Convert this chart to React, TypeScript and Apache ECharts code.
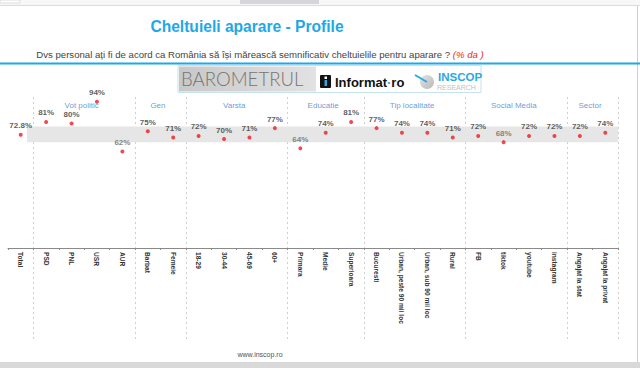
import React, { useEffect, useRef } from "react";
import * as echarts from "echarts";

const categories = [
  "Total", "PSD", "PNL", "USR", "AUR", "Barbat", "Femeie", "18-29", "30-44", "45-69", "60+",
  "Primara", "Medie", "Superioara", "Bucuresti", "Urban, peste 90 mii loc", "Urban, sub 90 mii loc",
  "Rural", "FB", "tiktok", "youtube", "instagram", "Angajat la stat", "Angajat la privat",
];
const values = [72.8, 81, 80, 94, 62, 75, 71, 72, 70, 71, 77, 64, 74, 81, 77, 74, 74, 71, 72, 68, 72, 72, 72, 74];
const groupNames = ["Vot politic", "Gen", "Varsta", "Educatie", "Tip localitate", "Social Media", "Sector"];
const groupStart = [1, 5, 7, 11, 14, 18, 22];
const groupEnd = [4, 6, 10, 13, 17, 21, 23];
const bandRange = [68, 78];

const FONT = "Liberation Sans, Arial, sans-serif";
const BLUE = "#1ea8e6";
const RED = "#ee1c25";

export default function App() {
  const ref = useRef<HTMLDivElement>(null);
  useEffect(() => {
    if (!ref.current) return;
    const chart = echarts.init(ref.current, undefined, { renderer: "svg" });
    const groupData = groupNames.map((n, i) => ({
      name: n,
      value: [(groupStart[i] + groupEnd[i]) / 2 - 0.1, 91.5],
    }));
    const option: any = {
      animation: false,
      backgroundColor: "#ffffff",
      grid: [
        { left: 8, right: 22, top: 97, bottom: 120, outerBoundsMode: "none", containLabel: false },
        { left: 8, right: 22, top: 97, bottom: 27, outerBoundsMode: "none", containLabel: false },
      ],
      xAxis: [
        {
          type: "category",
          gridIndex: 0,
          data: categories,
          boundaryGap: true,
          axisLine: { onZero: false, lineStyle: { color: "#8a8a8a", width: 1 } },
          axisTick: { show: true, interval: 0, length: 2, lineStyle: { color: "#8a8a8a" } },
          axisLabel: {
            interval: 0,
            rotate: -90,
            margin: 4,
            fontSize: 6.6,
            fontWeight: "bold",
            color: "#333",
            fontFamily: FONT,
          },
          splitLine: { show: false },
        },
        { type: "value", gridIndex: 0, show: false, min: -0.5, max: 23.5 },
        {
          type: "category",
          gridIndex: 1,
          data: categories,
          boundaryGap: true,
          axisLine: { show: false },
          axisTick: { show: false },
          axisLabel: { show: false },
          splitLine: {
            show: true,
            interval: (i: number) => i > 0 && groupStart.includes(i),
            lineStyle: { color: "#cfcfcf", type: [2, 3], width: 1 },
          },
        },
      ],
      yAxis: [
        { type: "value", gridIndex: 0, min: 0, max: 97, show: false },
        { type: "value", gridIndex: 1, min: 0, max: 1, show: false },
      ],
      series: [
        {
          type: "scatter",
          xAxisIndex: 2,
          yAxisIndex: 1,
          data: [],
          silent: true,
        },
        {
          type: "scatter",
          xAxisIndex: 1,
          yAxisIndex: 0,
          clip: false,
          symbolSize: 0,
          data: groupData,
          z: 1,
          label: {
            show: true,
            position: "inside",
            formatter: "{b}",
            color: "#3f7fd0",
            fontSize: 8,
            fontFamily: FONT,
          },
          markArea: {
            silent: true,
            itemStyle: { color: "#e6e6e6" },
            data: [[{ xAxis: 0.25, yAxis: bandRange[0] }, { xAxis: 23.8, yAxis: bandRange[1] }]],
          },
        },
        {
          type: "scatter",
          xAxisIndex: 0,
          yAxisIndex: 0,
          z: 5,
          clip: false,
          symbolSize: 4,
          itemStyle: { color: RED },
          data: values.map((v) => ({
            value: v,
            label: { color: v < 70 ? "#666" : "#333" },
          })),
          label: {
            show: true,
            position: "top",
            distance: 3,
            formatter: (p: any) => p.value + "%",
            fontSize: 8,
            fontWeight: "bold",
            fontFamily: FONT,
          },
        },
      ],
      graphic: [
        { type: "rect", shape: { x: 0, y: 0, width: 640, height: 5 }, style: { fill: "#f7f7f7" }, z: 0 },
        { type: "rect", shape: { x: 0, y: 0, width: 20, height: 3 }, style: { fill: "#fff", stroke: "#ddd" } },
        { type: "rect", shape: { x: 240, y: 0, width: 79, height: 4 }, style: { fill: "#d6d6da" } },
        { type: "line", shape: { x1: 0, y1: 5.5, x2: 640, y2: 5.5 }, style: { stroke: "#dcdcdc", lineWidth: 1 } },
        { type: "line", shape: { x1: 637.5, y1: 6, x2: 637.5, y2: 362 }, style: { stroke: "#cfcfcf", lineWidth: 1 } },
        { type: "rect", shape: { x: 0, y: 362, width: 640, height: 6 }, style: { fill: "#d9d9d9" } },
        {
          type: "text",
          x: 247,
          y: 26,
          style: {
            text: "Cheltuieli aparare - Profile",
            fill: BLUE,
            fontSize: 15.6,
            fontWeight: "bold",
            fontFamily: FONT,
            textAlign: "center",
            textVerticalAlign: "middle",
          },
        },
        {
          type: "text",
          x: 260,
          y: 54,
          style: {
            text: "{a|Dvs personal ați fi de acord ca România să își mărească semnificativ cheltuielile pentru aparare ? }{b|(% da )}",
            rich: {
              a: { fill: "#444", fontSize: 9.6, fontFamily: FONT },
              b: { fill: RED, fontSize: 9.6, fontStyle: "italic", fontFamily: FONT },
            },
            textAlign: "center",
            textVerticalAlign: "middle",
          },
        },
        { type: "line", shape: { x1: 0, y1: 63.5, x2: 640, y2: 63.5 }, style: { stroke: BLUE, lineWidth: 2 } },
        // banner
        { type: "rect", shape: { x: 178, y: 65.5, width: 303, height: 27 }, style: { fill: "#fff", stroke: "#c5e2ee", lineWidth: 1 } },
        {
          type: "rect",
          shape: { x: 179, y: 66.5, width: 137, height: 25 },
          style: {
            fill: new echarts.graphic.LinearGradient(0, 0, 1, 0, [
              { offset: 0, color: "#c8c8c8" },
              { offset: 1, color: "#e2e2e2" },
            ]),
          },
        },
        {
          type: "text",
          x: 181,
          y: 79,
          style: {
            text: "BAROMETRUL",
            fill: "#747474",
            fontSize: 18.6,
            fontWeight: 300,
            fontFamily: "Lato, Liberation Sans, sans-serif",
            textVerticalAlign: "middle",
          },
        },
        { type: "rect", shape: { x: 320, y: 75, width: 11, height: 13, r: 1 }, style: { fill: "#111" } },
        { type: "rect", shape: { x: 324.5, y: 80, width: 2.5, height: 6 }, style: { fill: "#29a9e0" } },
        { type: "rect", shape: { x: 324.5, y: 76.5, width: 2.5, height: 2.5 }, style: { fill: "#fff" } },
        {
          type: "text",
          x: 335,
          y: 82,
          style: {
            text: "{a|Informat}{d|·}{a|ro}",
            rich: {
              a: { fill: "#111", fontSize: 13, fontWeight: "bold", fontFamily: FONT },
              d: { fill: "#29a9e0", fontSize: 13, fontWeight: "bold", fontFamily: FONT },
            },
            textVerticalAlign: "middle",
          },
        },
        {
          type: "circle",
          shape: { cx: 427, cy: 82, r: 7 },
          style: {
            fill: new echarts.graphic.LinearGradient(0, 0, 1, 1, [
              { offset: 0, color: "#e4e4e4" },
              { offset: 1, color: "#b8b8b8" },
            ]),
          },
        },
        { type: "line", shape: { x1: 415, y1: 75, x2: 427, y2: 82 }, style: { stroke: "#29a9e0", lineWidth: 2 } },
        {
          type: "text",
          x: 438,
          y: 76.5,
          style: { text: "INSCOP", fill: "#2aa9e0", fontSize: 11.5, fontWeight: "bold", fontFamily: FONT, textVerticalAlign: "middle" },
        },
        {
          type: "text",
          x: 437,
          y: 87,
          style: { text: "RESEARCH", fill: "#c2c2c2", fontSize: 7, fontFamily: FONT, textVerticalAlign: "middle" },
        },
        {
          type: "text",
          x: 260,
          y: 354,
          style: { text: "www.inscop.ro", fill: "#44546a", fontSize: 7, fontFamily: FONT, textAlign: "center", textVerticalAlign: "middle" },
        },
      ],
    };
    chart.setOption(option);
    return () => chart.dispose();
  }, []);
  return (
    <div
      ref={ref}
      style={{ position: "absolute", left: 0, top: 0, width: 640, height: 368 }}
    />
  );
}
